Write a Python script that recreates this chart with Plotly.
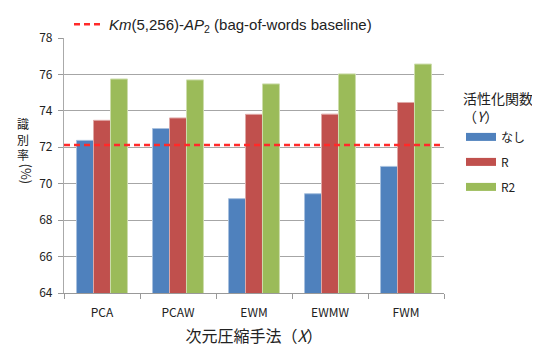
import plotly.graph_objects as go

categories = ["PCA", "PCAW", "EWM", "EWMW", "FWM"]
series_names = ["なし", "R", "R2"]
vals_none = [72.38, 73.03, 69.18, 69.45, 70.95]
vals_r = [73.48, 73.61, 73.81, 73.82, 74.46]
vals_r2 = [75.75, 75.70, 75.48, 76.03, 76.57]
baseline = 72.13
baseline_name = "<i>Km</i>(5,256)-<i>AP</i><sub>2</sub> (bag-of-words baseline)"
y_ticks = [64, 66, 68, 70, 72, 74, 76, 78]
y_title_main = "識<br>別<br>率"
y_title_unit = "(%)"

colors = ["#4F81BD", "#C0504D", "#9BBB59"]
edge = ["#A7C0DE", "#DFA8A6", "#CDDDAC"]

# page body has an 8px default margin; compensate so that window pixels match
OFF = 8
W, H = 540 - OFF, 347 - OFF
L, T, R, B = 64 - OFF, 38 - OFF, 96, 54
PW = W - L - R
PH = H - T - B

fig = go.Figure()
for i, (name, vals) in enumerate(zip(series_names, [vals_none, vals_r, vals_r2])):
    fig.add_trace(go.Bar(
        x=categories, y=vals, name=name, marker_color=colors[i],
        marker_line=dict(color=edge[i], width=1),
        showlegend=False, legendgroup=name,
    ))
    fig.add_trace(go.Scatter(
        x=[None], y=[None], mode="lines", name=name,
        line=dict(color=colors[i], width=8),
        legendgroup=name, showlegend=True, legend="legend",
    ))

fig.add_hline(y=baseline, line=dict(color="#FF2A2A", width=2.5, dash="6px,4px"),
              showlegend=True, name=baseline_name, legend="legend2", layer="above")

cjk = "Noto Sans CJK JP"


def cx(px):  # window pixel -> container fraction
    return (px - OFF) / W


def cy(py):
    return 1 - (py - OFF) / H


def ax(px):  # window pixel -> paper fraction
    return (px - OFF - L) / PW


def ay(py):
    return 1 - (py - OFF - T) / PH


annotations = [
    dict(text=y_title_main, x=ax(15), y=ay(139), xref="paper", yref="paper",
         showarrow=False, font=dict(family=cjk, size=12, color="#222")),
    dict(text=y_title_unit, x=ax(15), y=ay(174), textangle=90, showarrow=False,
         xref="paper", yref="paper", font=dict(family=cjk, size=13, color="#222")),
]

fig.update_layout(
    width=W, height=H,
    margin=dict(l=L, r=R, t=T, b=B, autoexpand=False),
    paper_bgcolor="white", plot_bgcolor="white",
    barmode="group", bargap=0.33, bargroupgap=0,
    font=dict(family=cjk, size=12, color="#222"),
    xaxis=dict(
        automargin=False,
        showline=True, linecolor="#999", linewidth=1.2,
        ticks="outside", tickson="boundaries", ticklen=5, tickcolor="#999",
        ticklabelstandoff=8,
        tickfont=dict(family=cjk, size=12, color="#222"),
        title=dict(text="次元圧縮手法（<i>X</i>）", font=dict(family=cjk, size=16, color="#222"), standoff=20),
    ),
    yaxis=dict(
        automargin=False,
        range=[64, 78], tickvals=y_ticks, showline=True, linecolor="#AAA", linewidth=1.2,
        ticks="outside", ticklen=5, tickcolor="#999", ticklabelstandoff=3,
        showgrid=True, gridcolor="#A6A6A6", gridwidth=1.2, zeroline=False,
        tickfont=dict(family=cjk, size=12, color="#222"),
    ),
    legend=dict(
        x=cx(461), xanchor="left", y=cy(86), yanchor="top", xref="container", yref="container",
        title=dict(text="活性化関数<br>（<i>Y</i>）", font=dict(family=cjk, size=14, color="#222")),
        font=dict(family=cjk, size=12, color="#222"),
        traceorder="grouped", tracegroupgap=6, itemwidth=30,
        bgcolor="rgba(0,0,0,0)",
    ),
    legend2=dict(
        orientation="h", x=cx(69), xanchor="left", y=1.0, yanchor="top",
        xref="container", yref="container",
        font=dict(family="Liberation Sans", size=15, color="#222"),
        bgcolor="rgba(0,0,0,0)",
    ),
    annotations=annotations,
)

fig.write_html("out.html")
